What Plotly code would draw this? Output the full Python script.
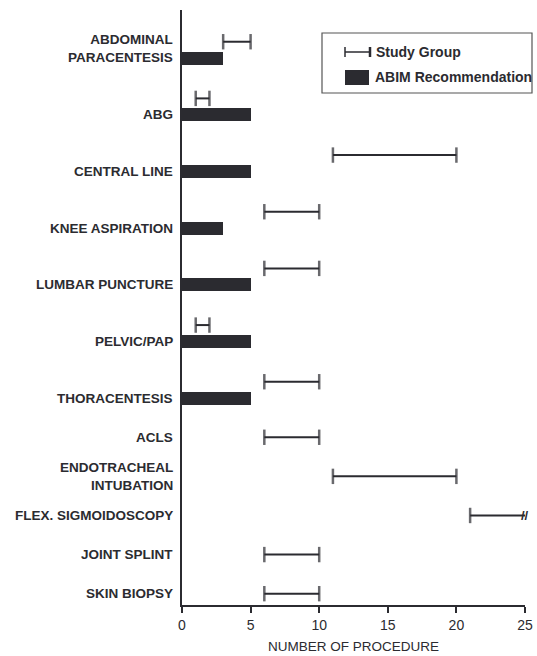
import plotly.graph_objects as go

categories = ["ABDOMINAL<br>PARACENTESIS", "ABG", "CENTRAL LINE", "KNEE ASPIRATION",
              "LUMBAR PUNCTURE", "PELVIC/PAP", "THORACENTESIS", "ACLS",
              "ENDOTRACHEAL<br>INTUBATION", "FLEX. SIGMOIDOSCOPY", "JOINT SPLINT", "SKIN BIOPSY"]
abim = [3, 5, 5, 3, 5, 5, 5, None, None, None, None, None]
study_low = [3, 1, 11, 6, 6, 1, 6, 6, 11, 21, 6, 6]
study_high = [5, 2, 20, 10, 10, 2, 10, 10, 20, 25, 10, 10]
open_ended = [False, False, False, False, False, False, False, False, False, True, False, False]
x_ticks = [0, 5, 10, 15, 20, 25]
x_title = "NUMBER OF PROCEDURE"

INK = "#2b2b30"
FONT = "Liberation Sans, Arial, sans-serif"

# vertical layout (in category units)
pos = []
p = 0.0
for i, v in enumerate(abim):
    if i > 0:
        p += 1.0 if v is not None else 0.69
    pos.append(p)
err_y = [pp - 0.29 if v is not None else pp for pp, v in zip(pos, abim)]

fig = go.Figure()

# bars
bx = [v for v in abim if v is not None]
by = [pp for pp, v in zip(pos, abim) if v is not None]
fig.add_trace(go.Bar(x=bx, y=by, orientation="h", width=0.23,
                     marker=dict(color=INK, line=dict(width=0)), showlegend=False))

# study group ranges
for lo, hi, yy, oe in zip(study_low, study_high, err_y, open_ended):
    fig.add_trace(go.Scatter(
        x=[lo, hi], y=[yy, yy], mode="lines+markers",
        line=dict(color=INK, width=2),
        marker=dict(symbol="line-ns", size=[11, 0 if oe else 11],
                    line=dict(color=INK, width=2.5)),
        showlegend=False, hoverinfo="skip", cliponaxis=False))
    if oe:
        fig.add_annotation(x=hi, y=yy, text="<b>//</b>", showarrow=False,
                           font=dict(family=FONT, size=13, color=INK),
                           xanchor="center", yanchor="middle")

# category labels
for cat, pp, yy, v in zip(categories, pos, err_y, abim):
    ly = pp
    if "<br>" in cat and v is not None:
        ly = pp - 0.17
    fig.add_annotation(x=0, xref="paper", y=ly, yref="y", text=f"<b>{cat}</b>",
                       showarrow=False, xanchor="right", yanchor="middle",
                       xshift=-7, align="right",
                       font=dict(family=FONT, size=13.5, color=INK))

# manual legend (positions in plot-area pixels of the reference)
RL, RT, RW, RH = 182, 10, 343, 595
def px(x):
    return (x - RL) / RW
def py(y):
    return 1 - (y - RT) / RH

fig.add_shape(type="rect", xref="paper", yref="paper",
              x0=px(322), x1=px(532), y0=py(33), y1=py(93),
              line=dict(color="#555", width=1.2), fillcolor="white")
fig.add_shape(type="line", xref="paper", yref="paper",
              x0=px(345), x1=px(370), y0=py(52), y1=py(52), line=dict(color=INK, width=1.5))
for xx, w in ((345, 1.5), (370, 2.5)):
    fig.add_shape(type="line", xref="paper", yref="paper",
                  x0=px(xx), x1=px(xx), y0=py(47), y1=py(57), line=dict(color=INK, width=w))
fig.add_shape(type="rect", xref="paper", yref="paper",
              x0=px(345), x1=px(369), y0=py(70), y1=py(85),
              line=dict(width=0), fillcolor=INK)
fig.add_annotation(xref="paper", yref="paper", x=px(374), y=py(52), text="<b>Study Group</b>",
                   showarrow=False, xanchor="left", yanchor="middle",
                   font=dict(family=FONT, size=14, color=INK))
fig.add_annotation(xref="paper", yref="paper", x=px(373), y=py(77), text="<b>ABIM Recommendation</b>",
                   showarrow=False, xanchor="left", yanchor="middle",
                   font=dict(family=FONT, size=14, color=INK))

# x-axis title
fig.add_annotation(xref="paper", yref="paper", x=0.5, y=py(646), text=x_title,
                   showarrow=False, xanchor="center", yanchor="middle",
                   font=dict(family=FONT, size=13.5, color=INK))

fig.update_layout(
    width=537, height=656,
    margin=dict(l=182, r=12, t=10, b=51, autoexpand=False),
    paper_bgcolor="white", plot_bgcolor="white",
    font=dict(family=FONT, color=INK),
    xaxis=dict(range=[0, 25], tickvals=x_ticks, ticks="outside", ticklen=6, tickwidth=1.5,
               tickcolor=INK, showline=True, linecolor=INK, linewidth=1.5, automargin=False,
               showgrid=False, zeroline=False, tickfont=dict(size=14, color=INK)),
    yaxis=dict(range=[9.65, -0.85], showticklabels=False, ticks="", showgrid=False, automargin=False,
               zeroline=False, showline=True, linecolor=INK, linewidth=1.5),
    bargap=0,
)

fig.write_html(
    "out.html",
    config={"displayModeBar": False},
    post_script="document.body.style.margin='0';document.body.style.overflow='hidden';",
)
